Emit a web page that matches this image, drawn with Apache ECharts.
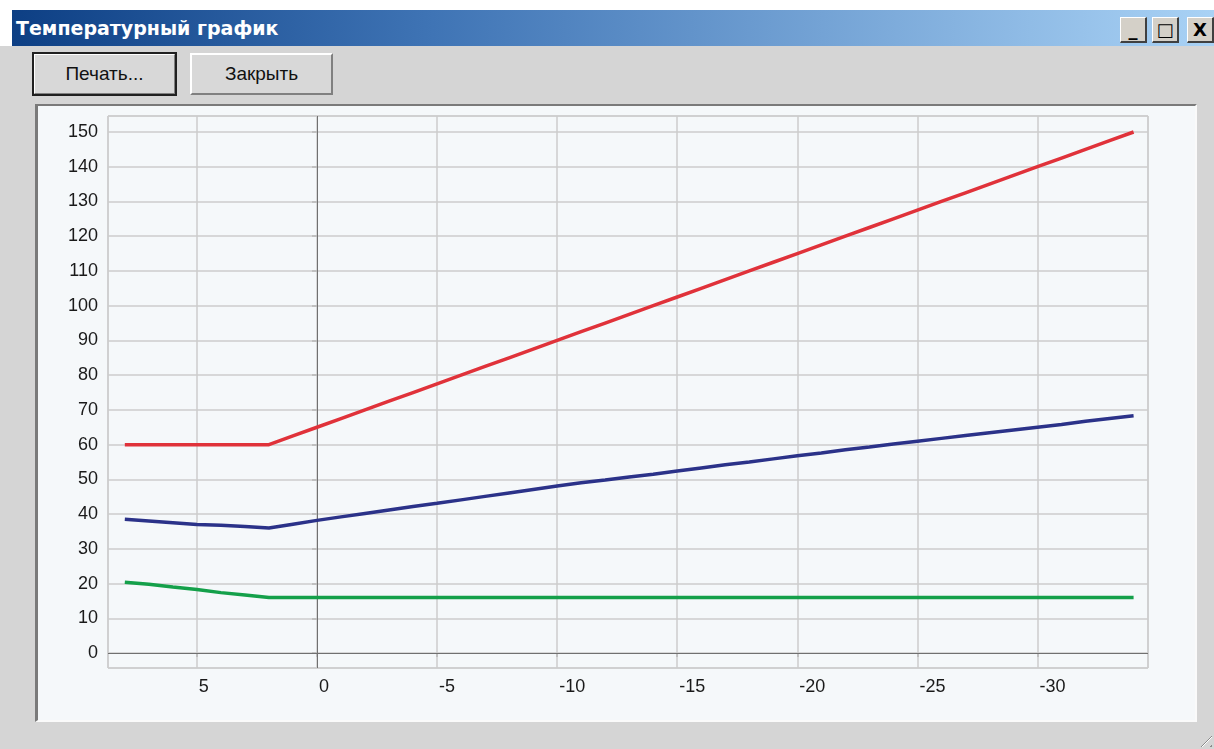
<!DOCTYPE html>
<html>
<head>
<meta charset="utf-8">
<script src="https://cdn.jsdelivr.net/npm/echarts@6/dist/echarts.min.js"></script>
<style>
  html,body{margin:0;padding:0;}
  body{width:1214px;height:749px;overflow:hidden;background:#d5d5d5;position:relative;font-family:"Liberation Sans",Arial,sans-serif;}
  #topstrip{position:absolute;left:0;top:0;width:1214px;height:10px;background:#fff;}
  #leftstrip{position:absolute;left:0;top:10px;width:12px;height:36px;background:#fff;}
  #titlebar{position:absolute;left:12px;top:10px;width:1202px;height:36px;background:linear-gradient(to right,#0d3f84 0%,#3f74b5 35%,#a9d2f5 100%);}
  #titletext{position:absolute;left:4px;top:0;line-height:36px;color:#fff;font-family:"DejaVu Sans",sans-serif;font-weight:bold;font-size:19px;white-space:nowrap;}
  .tbtn{position:absolute;top:17px;width:27px;height:26px;background:#d4d0c8;box-sizing:border-box;border-top:1px solid #fff;border-left:1px solid #fff;border-right:2px solid #404040;border-bottom:2px solid #404040;color:#000;font-family:"DejaVu Sans",sans-serif;font-weight:bold;font-size:18px;text-align:center;line-height:23px;}
  .btn{position:absolute;top:53px;width:143px;height:42px;box-sizing:border-box;background:#d8d8d8;border-top:2px solid #fff;border-left:2px solid #fff;border-right:2px solid #808080;border-bottom:2px solid #808080;text-align:center;line-height:38px;font-size:19px;color:#111;}
  #b1{left:33px;outline:2px solid #202020;outline-offset:-1px;}
  #b2{left:190px;}
  #panel{position:absolute;left:35px;top:104px;width:1162px;height:618px;box-sizing:border-box;background:#f5f8fa;border-top:2px solid #7a7a7a;border-left:3px solid #7a7a7a;border-right:2px solid #fafafa;border-bottom:2px solid #fafafa;}
  #grip{position:absolute;right:2px;bottom:2px;width:18px;height:18px;background:repeating-linear-gradient(135deg,transparent 0 3px,#8a8a8a 3px 4px,#fff 4px 5px,transparent 5px 7px);clip-path:polygon(100% 0,100% 100%,0 100%);}
  #chart{position:absolute;left:0;top:0;width:1214px;height:749px;}
</style>
</head>
<body>
<div id="topstrip"></div>
<div id="leftstrip"></div>
<div id="titlebar"><div id="titletext">Температурный график</div></div>
<div class="tbtn" style="left:1120px;">_</div>
<div class="tbtn" style="left:1152px;">□</div>
<div class="tbtn" style="left:1187px;">X</div>
<div class="btn" id="b1">Печать...</div>
<div class="btn" id="b2">Закрыть</div>
<div id="panel"></div>
<div id="grip"></div>
<div id="chart"></div>
<script>
// Outdoor temperature (x axis, decreasing to the right)
const outdoorTemp = [8,7,6,5,4,3,2,1,0,-1,-2,-3,-4,-5,-6,-7,-8,-9,-10,-11,-12,-13,-14,-15,-16,-17,-18,-19,-20,-21,-22,-23,-24,-25,-26,-27,-28,-29,-30,-31,-32,-33,-34];
// Supply water temperature (red)
const supplyTemp = [60,60,60,60,60,60,60,62.5,65,67.5,70,72.5,75,77.5,80,82.5,85,87.5,90,92.5,95,97.5,100,102.5,105,107.5,110,112.5,115,117.5,120,122.5,125,127.5,130,132.5,135,137.5,140,142.5,145,147.5,150];
// Return water temperature (blue)
const returnTemp = [38.5,38.0,37.5,37.0,36.8,36.4,36.0,37.1,38.2,39.2,40.2,41.2,42.2,43.1,44.1,45.1,46.1,47.1,48.1,49.0,49.8,50.7,51.5,52.4,53.3,54.2,55.0,55.9,56.8,57.6,58.5,59.3,60.2,61.0,61.8,62.6,63.4,64.2,65.0,65.8,66.7,67.5,68.3];
// Lower curve (green)
const lowerTemp = [20.4,19.8,19.0,18.3,17.4,16.7,16.0,16,16,16,16,16,16,16,16,16,16,16,16,16,16,16,16,16,16,16,16,16,16,16,16,16,16,16,16,16,16,16,16,16,16,16,16];

const pairs = vals => outdoorTemp.map((x, i) => [x, vals[i]]);
const chart = echarts.init(document.getElementById('chart'), null, {renderer: 'canvas'});
const labelFont = {color: '#1a1a1a', fontSize: 18, fontFamily: '"Liberation Sans", Arial, sans-serif'};
chart.setOption({
  backgroundColor: 'transparent',
  animation: false,
  grid: {left: 108, top: 116, right: 66, bottom: 81, show: true, borderColor: '#c4c4c4', borderWidth: 1, backgroundColor: 'transparent'},
  xAxis: {
    type: 'value', inverse: true, min: -34.6, max: 8.7, splitNumber: 9, minInterval: 5, maxInterval: 5,
    axisLine: {show: false},
    axisTick: {show: true, length: 4, lineStyle: {color: '#b8b8b8', width: 1.5}},
    splitLine: {show: true, lineStyle: {color: '#cdcdcd', width: 1.5}},
    axisLabel: Object.assign({showMinLabel: false, showMaxLabel: false, align: 'left', verticalAlign: 'top', margin: 10, padding: [0,0,0,2]}, labelFont)
  },
  yAxis: {
    type: 'value', min: -4.3, max: 154.6, splitNumber: 16, minInterval: 10, maxInterval: 10,
    axisLine: {show: false},
    axisTick: {show: true, length: 5, lineStyle: {color: '#b8b8b8', width: 1.5}},
    splitLine: {show: true, lineStyle: {color: '#cdcdcd', width: 1.5}},
    axisLabel: Object.assign({showMinLabel: false, showMaxLabel: false, margin: 10}, labelFont)
  },
  series: [
    {type: 'line', data: pairs(supplyTemp), showSymbol: false, lineStyle: {color: '#e0323a', width: 3.5}, itemStyle: {color: '#e0323a'}, z: 5,
     markLine: {silent: true, symbol: ['none','none'], label: {show: false}, lineStyle: {color: '#707070', width: 1, type: 'solid'}, data: [{xAxis: 0}, {yAxis: 0}], z: 3}},
    {type: 'line', data: pairs(returnTemp), showSymbol: false, lineStyle: {color: '#2b3289', width: 3.5}, itemStyle: {color: '#2b3289'}, z: 5},
    {type: 'line', data: pairs(lowerTemp), showSymbol: false, lineStyle: {color: '#14a04a', width: 3.5}, itemStyle: {color: '#14a04a'}, z: 5}
  ]
});
</script>
</body>
</html>
